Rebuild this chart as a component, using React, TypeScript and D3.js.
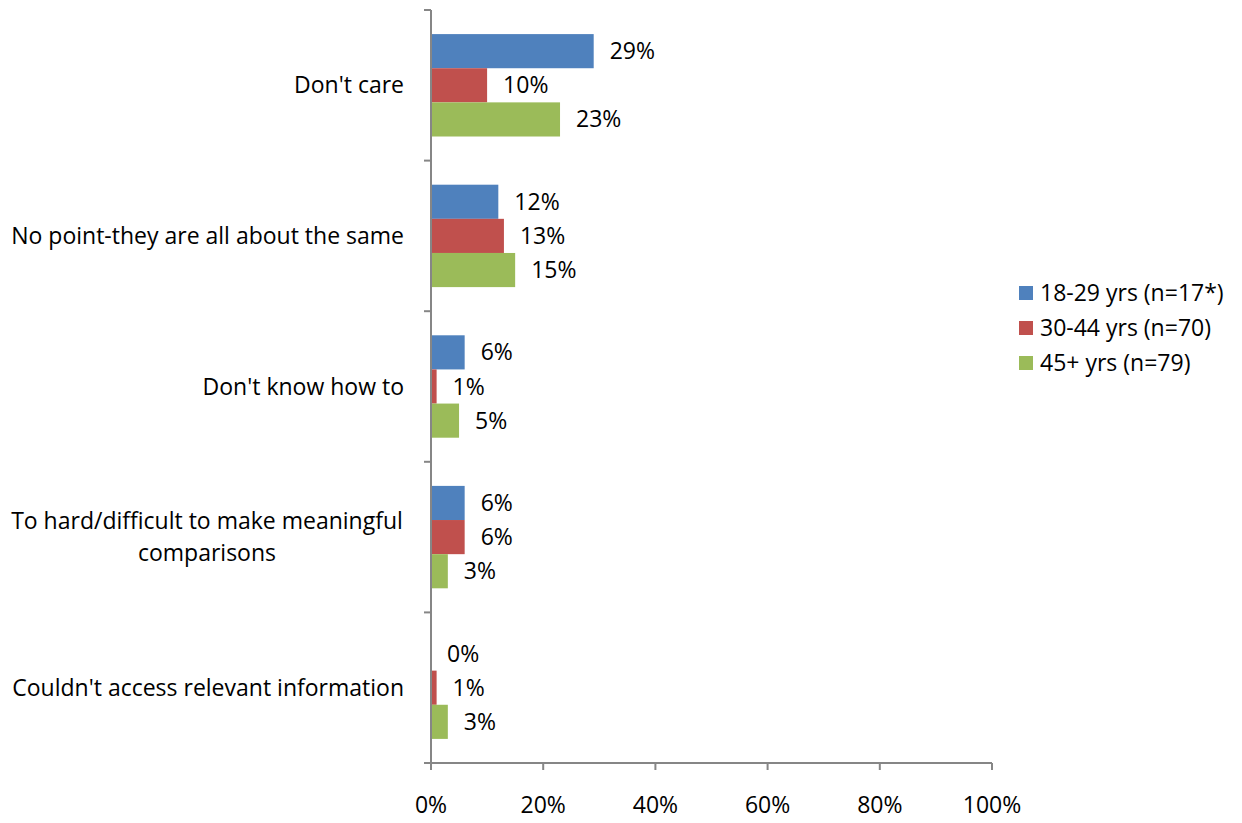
import React, { useEffect } from 'react';
import * as d3 from 'd3';

// 数据
const categories = [
  "Don't care",
  'No point-they are all about the same',
  "Don't know how to",
  'To hard/difficult to make meaningful comparisons',
  "Couldn't access relevant information",
];
const seriesNames = ['18-29 yrs (n=17*)', '30-44 yrs (n=70)', '45+ yrs (n=79)'];
const age1829 = [29, 12, 6, 6, 0];
const age3044 = [10, 13, 1, 6, 1];
const age45 = [23, 15, 5, 3, 3];
const xTicks = [0, 20, 40, 60, 80, 100];
const colors = ['#4F81BD', '#C0504D', '#9BBB59'];

// 多行标签
const labelLines: Record<string, string[]> = {
  'To hard/difficult to make meaningful comparisons': ['To hard/difficult to make meaningful', 'comparisons'],
};

const W = 1242, H = 823;
const FONT = '"Open Sans", sans-serif';
const FS = 23;

export default function App() {
  useEffect(() => {
    document.body.style.margin = '0';
  }, []);

  const series = [age1829, age3044, age45];
  const x = d3.scaleLinear().domain([0, 100]).range([431, 992]);
  const y = d3.scaleBand<string>().domain(categories).range([10, 763]).paddingInner(0.32).paddingOuter(0.16);
  const yInner = d3.scaleBand<number>().domain([0, 1, 2]).range([0, y.bandwidth()]);
  const step = y.step();
  const axisColor = '#868686';

  return (
    <svg width={W} height={H} style={{ display: 'block', fontFamily: FONT }}>
      {/* 柱子 */}
      {categories.map((c, ci) => (
        <g key={c} transform={`translate(0,${y(c)})`}>
          {series.map((s, si) => (
            <g key={si}>
              {s[ci] > 0 && (
                <rect x={x(0)} y={yInner(si)} width={x(s[ci]) - x(0)} height={yInner.bandwidth()} fill={colors[si]} />
              )}
              <text
                x={x(s[ci]) + 16}
                y={(yInner(si) as number) + yInner.bandwidth() / 2}
                dy="0.35em"
                fontSize={FS}
                fill="#000"
              >
                {s[ci]}%
              </text>
            </g>
          ))}
        </g>
      ))}

      {/* y 轴 */}
      <line x1={x(0)} x2={x(0)} y1={10} y2={763} stroke={axisColor} strokeWidth={2} />
      {d3.range(categories.length + 1).map(i => {
        const ty = 10 + i * step;
        return <line key={i} x1={x(0) - 7} x2={x(0)} y1={ty} y2={ty} stroke={axisColor} strokeWidth={2} />;
      })}
      {categories.map(c => {
        const lines = labelLines[c] || [c];
        const cy = (y(c) as number) + y.bandwidth() / 2;
        const lh = 32;
        return (
          <text key={c} fontSize={FS} fill="#000" textAnchor={lines.length > 1 ? 'middle' : 'end'}>
            {lines.map((l, li) => (
              <tspan
                key={li}
                x={lines.length > 1 ? 207 : 404}
                y={cy + (li - (lines.length - 1) / 2) * lh}
                dy="0.35em"
              >
                {l}
              </tspan>
            ))}
          </text>
        );
      })}

      {/* x 轴 */}
      <line x1={x(0) - 7} x2={x(100)} y1={763} y2={763} stroke={axisColor} strokeWidth={2} />
      {xTicks.map(t => (
        <g key={t}>
          <line x1={x(t)} x2={x(t)} y1={763} y2={770} stroke={axisColor} strokeWidth={2} />
          <text x={x(t)} y={805} dy="0.35em" textAnchor="middle" fontSize={FS} fill="#000">
            {t}%
          </text>
        </g>
      ))}

      {/* 图例 */}
      {seriesNames.map((n, i) => (
        <g key={n} transform={`translate(1019,${293 + i * 35})`}>
          <rect x={0} y={-7} width={14} height={14} fill={colors[i]} />
          <text x={21} y={0} dy="0.35em" fontSize={FS} fill="#000">
            {n}
          </text>
        </g>
      ))}
    </svg>
  );
}
